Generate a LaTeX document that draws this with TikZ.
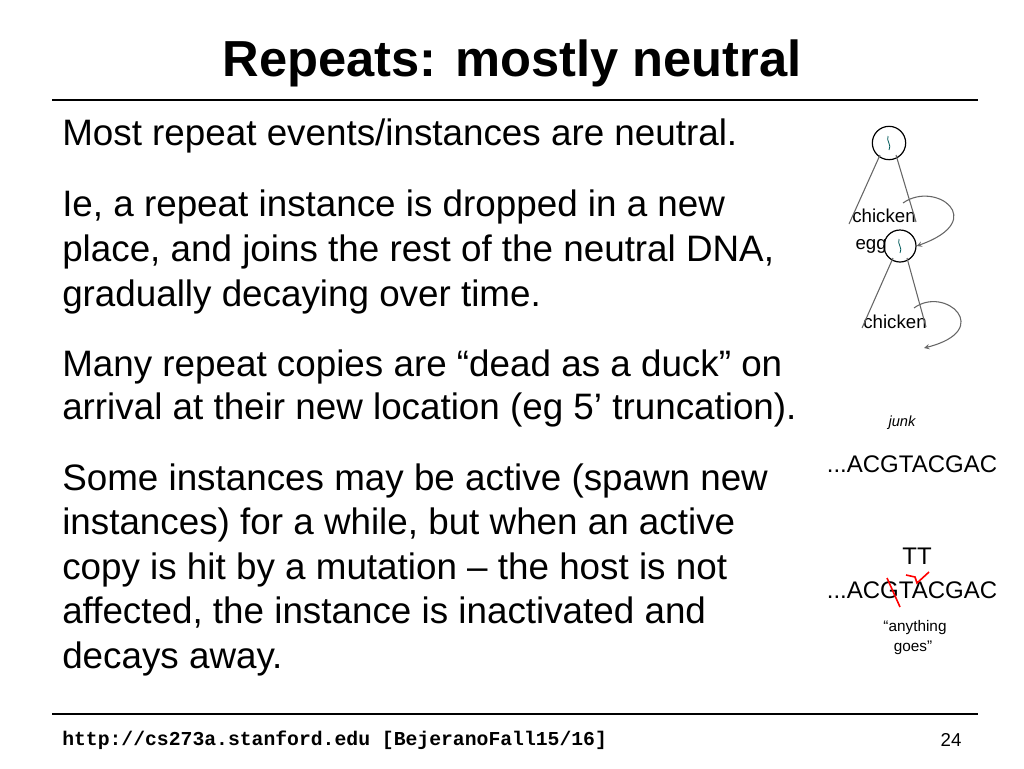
\documentclass[tikz,border=0pt]{standalone}
\usepackage{fontspec}
\setmainfont{Liberation Sans}
\setmonofont{Liberation Mono}
\begin{document}
\begin{tikzpicture}[x=0.75pt,y=-0.75pt,
  body/.style={anchor=base west,inner sep=0,font=\fontsize{27.6}{32}\selectfont},
  small/.style={inner sep=0,font=\fontsize{14}{16}\selectfont},
  seq/.style={inner sep=0,font=\fontsize{18}{20}\selectfont},
  br/.style={draw=black!60,line width=0.8pt},
  curl/.style={draw=black!60,line width=0.8pt,-stealth}]
\useasboundingbox (0,0) rectangle (1024,768);
\node[anchor=base,inner sep=0,font=\bfseries\fontsize{38}{44}\selectfont] (title) at (512,76) {Repeats: mostly neutral};
\draw[line width=2.2pt] (52,100) coordinate (r1a) -- (978,100) coordinate (r1b);
\node[body] (l1) at (62,145) {Most repeat events/instances are neutral.};
\node[body] (l2) at (62,216) {Ie, a repeat instance is dropped in a new};
\node[body] (l3) at (62,261) {place, and joins the rest of the neutral DNA,};
\node[body] (l4) at (62,306) {gradually decaying over time.};
\node[body] (l5) at (62,376) {Many repeat copies are “dead as a duck” on};
\node[body] (l6) at (62,419) {arrival at their new location (eg 5’ truncation).};
\node[body] (l7) at (62,490) {Some instances may be active (spawn new};
\node[body] (l8) at (62,534) {instances) for a while, but when an active};
\node[body] (l9) at (62,579) {copy is hit by a mutation – the host is not};
\node[body] (l10) at (62,623) {affected, the instance is inactivated and};
\node[body] (l11) at (62,668) {decays away.};
% tree
\node[draw,circle,line width=0.9pt,minimum size=25pt,inner sep=0] (c1) at (889,143) {};
\draw[teal!70!black,line width=0.6pt] (888,136) .. controls (886,141) and (892,145) .. (889,150);
\node[small] (ch1) at (884,216) {chicken};
\draw[br] (880,155) coordinate (a1) -- (849,224) coordinate (a2);
\draw[br] (896,155) coordinate (a3) -- (916,222) coordinate (a4);
\node[draw,circle,line width=0.9pt,minimum size=24pt,inner sep=0] (c2) at (900,246) {};
\draw[teal!70!black,line width=0.6pt] (899,239) .. controls (897,244) and (903,248) .. (900,253);
\node[small,anchor=east] (egg) at (887,246) {egg};
\coordinate (s1) at (903,203);
\draw[curl] (s1) .. controls (935,180) and (990,220) .. (c2.east);
\node[small] (ch2) at (895,322) {chicken};
\draw[br] (893,258) coordinate (b1) -- (862,328) coordinate (b2);
\draw[br] (907,258) coordinate (b3) -- (926,327) coordinate (b4);
\coordinate (s2) at (914,308);
\coordinate (e2) at (924,348);
\draw[curl] (s2) .. controls (945,285) and (995,330) .. (e2);
% sequences
\node[small,font=\itshape\fontsize{11}{13}\selectfont] (junk) at (902,423) {junk};
\node[seq] (q1) at (912,464) {...ACGTACGAC};
\node[seq] (tt) at (917,556) {TT};
\node[seq] (q2) at (912,590) {...ACGTACGAC};
\draw[red,line width=1.2pt] (887,578) coordinate (g1) -- (900,607) coordinate (g2);
\draw[red,line width=1.2pt] (906,575) coordinate (k1) -- (915,577) -- (917,583) -- (929,572) coordinate (k2);
\node[small,font=\fontsize{11.5}{13}\selectfont] (any) at (915,628) {“anything};
\node[small,font=\fontsize{11.5}{13}\selectfont] (goes) at (913,648) {goes”};
% footer
\draw[line width=1.6pt] (52,714) coordinate (r2a) -- (978,714) coordinate (r2b);
\node[anchor=base west,inner sep=0,font=\ttfamily\bfseries\fontsize{14.8}{16}\selectfont] (url) at (62,745) {http://cs273a.stanford.edu [BejeranoFall15/16]};
\node[anchor=base,inner sep=0,font=\fontsize{14}{16}\selectfont] (pg) at (951,746) {24};
\end{tikzpicture}
\end{document}
